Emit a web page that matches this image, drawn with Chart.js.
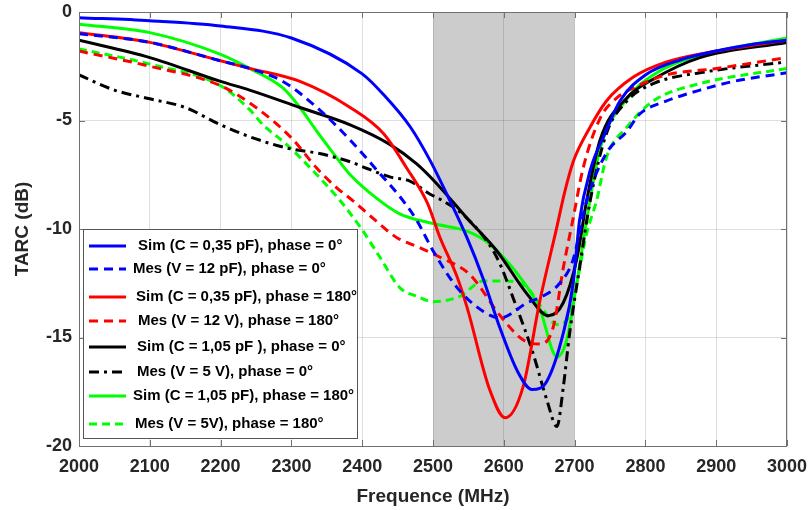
<!DOCTYPE html>
<html>
<head>
<meta charset="utf-8">
<script src="https://cdn.jsdelivr.net/npm/chart.js@4"></script>
<style>
  html, body { margin: 0; padding: 0; background: #fff; }
  #wrap { width: 809px; height: 510px; }
</style>
</head>
<body>
<div id="wrap"><canvas id="tarcChart" width="809" height="510"></canvas></div>
<script>
// frequencies (MHz) and TARC (dB)
var blueSimF = [2000, 2100, 2200, 2300, 2400, 2430, 2468, 2496, 2524, 2548, 2571, 2595, 2620, 2640, 2661, 2684, 2698, 2707, 2722, 2743, 2764, 2800, 2850, 2900, 2950, 3000];
var blueSimV = [-0.26, -0.4, -0.64, -1.2, -2.85, -3.8, -5.3, -6.85, -8.7, -10.4, -12.3, -14.6, -16.6, -17.4, -17.0, -14.8, -12.5, -9.6, -7.3, -5.6, -4.1, -2.9, -2.2, -1.8, -1.5, -1.3];

var blueMesF = [2000, 2100, 2200, 2241, 2288, 2336, 2383, 2421, 2453, 2477, 2500, 2534, 2571, 2595, 2633, 2655, 2679, 2698, 2717, 2745, 2774, 2792, 2830, 2877, 2924, 3000];
var blueMesV = [-1.0, -1.4, -2.25, -2.6, -3.2, -4.4, -5.9, -7.3, -8.5, -9.6, -11.0, -12.7, -13.8, -14.1, -13.4, -13.1, -12.5, -11.4, -8.7, -6.5, -5.5, -4.7, -4.1, -3.6, -3.2, -2.8];

var redSimF = [2000, 2100, 2200, 2241, 2312, 2383, 2430, 2463, 2492, 2510, 2534, 2548, 2580, 2602, 2627, 2651, 2675, 2686, 2698, 2722, 2745, 2783, 2830, 2900, 3000];
var redSimV = [-0.95, -1.4, -2.25, -2.6, -3.2, -4.4, -5.6, -7.2, -8.8, -10.4, -12.2, -13.6, -17.4, -18.7, -17.3, -13.3, -9.9, -8.3, -6.9, -5.3, -4.1, -3.0, -2.3, -1.8, -1.3];

var redMesF = [2000, 2100, 2200, 2250, 2300, 2336, 2364, 2387, 2415, 2449, 2477, 2510, 2552, 2595, 2627, 2651, 2670, 2684, 2698, 2712, 2736, 2760, 2783, 2830, 2901, 3000];
var redMesV = [-1.8, -2.5, -3.4, -4.4, -5.8, -7.2, -8.1, -8.7, -9.5, -10.4, -10.8, -11.3, -12.1, -14.0, -15.1, -15.3, -14.5, -11.8, -9.5, -7.2, -4.9, -3.95, -3.5, -2.9, -2.6, -2.1];

var blackSimF = [2000, 2100, 2200, 2241, 2312, 2383, 2439, 2477, 2505, 2548, 2590, 2633, 2663, 2684, 2703, 2717, 2736, 2774, 2811, 2877, 3000];
var blackSimV = [-1.3, -2.1, -3.2, -3.6, -4.4, -5.2, -6.1, -7.0, -7.9, -9.5, -11.0, -13.0, -14.0, -13.4, -11.4, -8.7, -5.9, -3.95, -3.1, -2.1, -1.4];

var blackMesF = [2000, 2050, 2100, 2150, 2200, 2250, 2298, 2336, 2383, 2406, 2439, 2468, 2496, 2514, 2548, 2590, 2618, 2641, 2661, 2675, 2684, 2693, 2707, 2722, 2745, 2774, 2811, 2877, 3000];
var blackMesV = [-2.9, -3.6, -4.0, -4.4, -5.2, -5.85, -6.3, -6.5, -6.9, -7.2, -7.6, -7.8, -8.4, -8.7, -9.5, -11.3, -13.6, -15.7, -17.9, -19.1, -17.3, -14.8, -11.8, -8.7, -5.6, -4.1, -3.3, -2.8, -2.3];

var greenSimF = [2000, 2100, 2200, 2241, 2288, 2312, 2336, 2359, 2383, 2421, 2453, 2500, 2548, 2580, 2627, 2651, 2675, 2689, 2703, 2717, 2736, 2774, 2811, 2877, 3000];
var greenSimV = [-0.56, -0.95, -1.95, -2.6, -3.5, -4.4, -5.5, -6.5, -7.5, -8.6, -9.3, -9.75, -10.1, -10.7, -12.4, -13.7, -15.9, -15.1, -12.5, -9.6, -6.3, -4.0, -2.9, -2.0, -1.2];

var greenMesF = [2000, 2100, 2200, 2241, 2260, 2293, 2336, 2369, 2397, 2425, 2453, 2477, 2500, 2538, 2571, 2604, 2633, 2655, 2675, 2689, 2703, 2717, 2731, 2745, 2774, 2811, 2877, 3000];
var greenMesV = [-1.7, -2.4, -3.4, -4.5, -5.2, -6.1, -7.5, -8.7, -9.9, -11.3, -12.7, -13.1, -13.35, -13.1, -12.4, -12.4, -12.7, -13.7, -14.4, -14.2, -12.5, -10.2, -8.7, -6.7, -5.3, -4.1, -3.3, -2.6];

var seriesLabels = [
  'Sim (C = 0,35 pF), phase = 0°',
  'Mes (V = 12 pF), phase = 0°',
  'Sim (C = 0,35 pF), phase = 180°',
  'Mes (V = 12 V), phase = 180°',
  'Sim (C = 1,05 pF ), phase = 0°',
  'Mes (V = 5 V), phase = 0°',
  'Sim (C = 1,05 pF), phase = 180°',
  'Mes (V = 5V), phase = 180°'
];
var bandStart = 2500;
var bandEnd = 2700;
var xTicks = [2000, 2100, 2200, 2300, 2400, 2500, 2600, 2700, 2800, 2900, 3000];
var yTicks = [-20, -15, -10, -5, 0];

function pts(f, v) {
  return f.map(function (x, i) { return { x: x, y: v[i] }; });
}

function ds(label, f, v, color, dash) {
  return {
    label: label,
    data: pts(f, v),
    borderColor: color,
    backgroundColor: color,
    borderWidth: 3,
    borderDash: dash,
    pointRadius: 0,
    fill: false,
    cubicInterpolationMode: 'monotone'
  };
}

var FONT = '"Liberation Sans", Arial, sans-serif';
var TXT = '#262626';

// grey band behind the grid, box + inward ticks on top
var bandPlugin = {
  id: 'band',
  beforeDraw: function (chart) {
    var c = chart.ctx, a = chart.chartArea, xs = chart.scales.x;
    var x0 = xs.getPixelForValue(bandStart), x1 = xs.getPixelForValue(bandEnd);
    c.save();
    c.fillStyle = '#cccccc';
    c.fillRect(x0, a.top, x1 - x0, a.bottom - a.top);
    c.restore();
  },
  afterDraw: function (chart) {
    var c = chart.ctx, a = chart.chartArea, xs = chart.scales.x, ys = chart.scales.y;
    c.save();
    c.strokeStyle = '#707070';
    c.lineWidth = 1;
    c.beginPath();
    xTicks.forEach(function (t) {
      var px = Math.round(xs.getPixelForValue(t)) + 0.5;
      c.moveTo(px, a.bottom); c.lineTo(px, a.bottom - 6);
      c.moveTo(px, a.top); c.lineTo(px, a.top + 6);
    });
    yTicks.forEach(function (t) {
      var py = Math.round(ys.getPixelForValue(t)) + 0.5;
      c.moveTo(a.left, py); c.lineTo(a.left + 6, py);
      c.moveTo(a.right, py); c.lineTo(a.right - 6, py);
    });
    c.stroke();
    c.strokeRect(a.left + 0.5, a.top + 0.5, a.right - a.left - 1, a.bottom - a.top);
    c.restore();
  }
};

// legend box inside the plot, lower left
var boxLegend = {
  id: 'boxLegend',
  afterDraw: function (chart) {
    var c = chart.ctx, a = chart.chartArea;
    var left = a.left + 4, top = a.top + 217, w = 274, h = 209;
    var rows = [234, 257, 285, 309, 335, 360, 384, 412];
    var textX = [138, 133, 136, 138, 137, 137, 133, 135];
    c.save();
    c.fillStyle = '#ffffff';
    c.fillRect(left, top, w, h);
    c.strokeStyle = '#555555';
    c.lineWidth = 1;
    c.strokeRect(left + 0.5, top + 0.5, w, h);
    chart.data.datasets.forEach(function (d, i) {
      var y = a.top + rows[i];
      c.strokeStyle = d.borderColor;
      c.lineWidth = 3;
      c.setLineDash(d.borderDash || []);
      c.beginPath();
      c.moveTo(left + 6, y);
      c.lineTo(left + 43, y);
      c.stroke();
      c.setLineDash([]);
      c.fillStyle = '#000';
      c.font = 'bold 15px ' + FONT;
      c.textBaseline = 'middle';
      c.fillText(d.label, textX[i], y);
    });
    c.restore();
  }
};

var ctx = document.getElementById('tarcChart').getContext('2d');
var tarcChart = new Chart(ctx, {
  type: 'line',
  data: {
    datasets: [
      ds(seriesLabels[0], blueSimF, blueSimV, '#0000ff', []),
      ds(seriesLabels[1], blueMesF, blueMesV, '#0000ff', [9, 6]),
      ds(seriesLabels[2], redSimF, redSimV, '#ff0000', []),
      ds(seriesLabels[3], redMesF, redMesV, '#ff0000', [9, 6]),
      ds(seriesLabels[4], blackSimF, blackSimV, '#000000', []),
      ds(seriesLabels[5], blackMesF, blackMesV, '#000000', [10, 5, 3, 5]),
      ds(seriesLabels[6], greenSimF, greenSimV, '#00ff00', []),
      ds(seriesLabels[7], greenMesF, greenMesV, '#00ff00', [8, 5])
    ]
  },
  options: {
    responsive: false,
    animation: false,
    layout: { padding: { left: 0, right: 22, top: 12, bottom: 0 } },
    plugins: {
      legend: { display: false },
      tooltip: { enabled: false }
    },
    scales: {
      x: {
        type: 'linear',
        min: 2000,
        max: 3000,
        afterFit: function (s) { s.height = 64; s.paddingLeft = 0; s.paddingRight = 0; },
        afterBuildTicks: function (s) { s.ticks = xTicks.map(function (v) { return { value: v }; }); },
        grid: { color: 'rgba(38,38,38,0.15)', drawTicks: false },
        border: { display: false },
        ticks: {
          padding: 10, color: TXT, maxRotation: 0,
          font: { family: FONT, size: 18, weight: 'bold' },
          callback: function (v) { return String(v); }
        },
        title: { display: true, text: 'Frequence (MHz)', color: TXT, padding: { top: 0, bottom: 2 }, font: { family: FONT, size: 19, weight: 'bold' } }
      },
      y: {
        min: -20,
        max: 0,
        afterFit: function (s) { s.width = 79; s.paddingTop = 0; s.paddingBottom = 0; },
        afterBuildTicks: function (s) { s.ticks = yTicks.map(function (v) { return { value: v }; }); },
        grid: { color: 'rgba(38,38,38,0.15)', drawTicks: false },
        border: { display: false },
        ticks: { padding: 7, color: TXT, font: { family: FONT, size: 18, weight: 'bold' } },
        title: { display: true, text: 'TARC (dB)', color: TXT, padding: { top: 11, bottom: 0 }, font: { family: FONT, size: 19, weight: 'bold' } }
      }
    }
  },
  plugins: [bandPlugin, boxLegend]
});
</script>
</body>
</html>
